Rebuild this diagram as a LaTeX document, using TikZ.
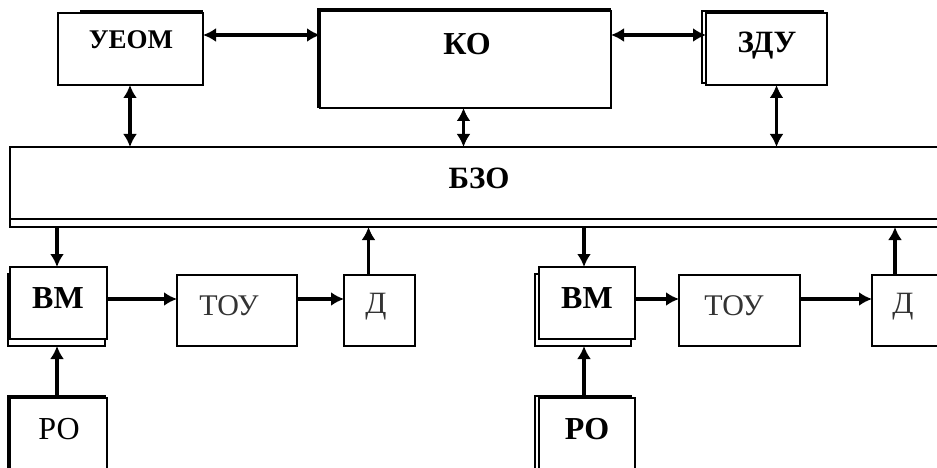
\documentclass[tikz,border=0pt]{standalone}
\usepackage{fontspec}
\setmainfont{Liberation Serif}
\usetikzlibrary{arrows.meta,shadows}
\definecolor{txtgray}{HTML}{333333}
\begin{document}
\begin{tikzpicture}[x=1pt,y=-1pt,
  box/.style={draw=black,line width=2.6pt,fill=white,inner sep=0pt,outer sep=0pt,anchor=north west},
  con/.style={line width=3.4pt,-{Latex[length=13pt,width=14pt]}},
  bicon/.style={line width=3.4pt,{Latex[length=13pt,width=14pt]}-{Latex[length=13pt,width=14pt]}},
  lblb/.style={font=\fontsize{#1}{#1}\selectfont\bfseries,anchor=base},
  lblr/.style={font=\fontsize{#1}{#1}\selectfont,anchor=base},
  lblg/.style={font=\fontsize{#1}{#1}\selectfont,anchor=base,text=txtgray}]
\useasboundingbox (0,0) rectangle (937,468);
\clip (0,0) rectangle (937,468);
% top row
\node[box,minimum width=145pt,minimum height=72pt] (ueom) at (58,13) {};
\node[box,minimum width=291pt,minimum height=97pt,copy shadow={shadow xshift=-1.5pt,shadow yshift=1.5pt}] (ko) at (320,11) {};
\node[box,minimum width=121pt,minimum height=72pt,copy shadow={shadow xshift=-4pt,shadow yshift=2pt}] (zdu) at (706,13) {};
\draw[line width=2.6pt] ([xshift=22pt,yshift=2pt]ueom.north west) -- ([yshift=2pt]ueom.north east);
% bus
\node[box,minimum width=940pt,minimum height=72pt,copy shadow={shadow xshift=0pt,shadow yshift=-8pt}] (bzo) at (10,147) {};
\coordinate (bzob) at ([yshift=-8pt]bzo.south);
% bottom left
\node[box,minimum width=97pt,minimum height=72pt,copy shadow={shadow xshift=-2pt,shadow yshift=-7pt}] (vm1) at (10,267) {};
\node[box,minimum width=120pt,minimum height=71pt] (tou1) at (177,275) {};
\node[box,minimum width=71pt,minimum height=71pt] (d1) at (344,275) {};
\node[box,minimum width=97pt,minimum height=90pt,copy shadow={shadow xshift=-2pt,shadow yshift=2pt}] (ro1) at (10,398) {};
% bottom right
\node[box,minimum width=96pt,minimum height=72pt,copy shadow={shadow xshift=-4pt,shadow yshift=-7pt}] (vm2) at (539,267) {};
\node[box,minimum width=121pt,minimum height=71pt] (tou2) at (679,275) {};
\node[box,minimum width=80pt,minimum height=71pt] (d2) at (872,275) {};
\node[box,minimum width=96pt,minimum height=90pt,copy shadow={shadow xshift=-4pt,shadow yshift=2pt}] (ro2) at (539,398) {};
% labels
\node[lblb=27] (tueom) at (131,49) {УЕОМ};
\node[lblb=32] (tko) at (467,55) {КО};
\node[lblb=31] (tzdu) at (767,53) {ЗДУ};
\node[lblb=31] (tbzo) at (479,188) {БЗО};
\node[lblb=32] (tvm1) at (58,308) {ВМ};
\node[lblg=30] (ttou1) at (229,315) {ТОУ};
\node[lblg=31] (td1) at (376,313) {Д};
\node[lblr=32] (tro1) at (59,439) {РО};
\node[lblb=32] (tvm2) at (587,308) {ВМ};
\node[lblg=30] (ttou2) at (734,315) {ТОУ};
\node[lblg=31] (td2) at (903,313) {Д};
\node[lblb=32] (tro2) at (587,439) {РО};
% connectors top
\draw[bicon] ([yshift=14pt]ueom.east) -- ([yshift=14pt]ueom.east -| ko.west);
\draw[bicon] ([yshift=14pt]zdu.west -| ko.east) -- ([yshift=14pt]zdu.west);
\draw[bicon] ([xshift=-0.5pt]ueom.south) -- ([xshift=-0.5pt]ueom.south |- bzo.north);
\draw[bicon] ([xshift=-2pt]ko.south) -- ([xshift=-2pt]ko.south |- bzo.north);
\draw[bicon] ([xshift=10pt]zdu.south) -- ([xshift=10pt]zdu.south |- bzo.north);
% connectors bottom left
\draw[con] ([xshift=-1.5pt]vm1.north |- bzob) -- ([xshift=-1.5pt]vm1.north);
\draw[con] ([yshift=4pt]vm1.east) -- ([yshift=4pt]vm1.east -| tou1.west);
\draw[con] ([yshift=4pt]vm1.east -| tou1.east) -- ([yshift=4pt]vm1.east -| d1.west);
\draw[con] ([xshift=-11pt]d1.north) -- ([xshift=-11pt]d1.north |- bzob);
\draw[con] ([xshift=-1.5pt]ro1.north) -- ([xshift=-1.5pt,yshift=-7pt]vm1.south);
% connectors bottom right
\draw[con] ([xshift=-3pt]vm2.north |- bzob) -- ([xshift=-3pt]vm2.north);
\draw[con] ([yshift=4pt]vm2.east) -- ([yshift=4pt]vm2.east -| tou2.west);
\draw[con] ([yshift=4pt]vm2.east -| tou2.east) -- ([yshift=4pt]vm2.east -| d2.west);
\draw[con] ([xshift=-17pt]d2.north) -- ([xshift=-17pt]d2.north |- bzob);
\draw[con] ([xshift=-3pt]ro2.north) -- ([xshift=-3pt,yshift=-7pt]vm2.south);
\end{tikzpicture}
\end{document}
